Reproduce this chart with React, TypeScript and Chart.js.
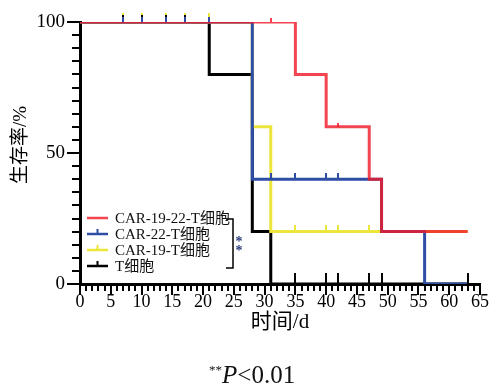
import React, { useEffect, useRef } from 'react';
import { Chart, registerables } from 'chart.js';

Chart.register(...registerables);

const FONT = "'Liberation Serif', 'Noto Sans CJK SC', serif";

// Series names and colours
const SERIES_NAMES = ['CAR-19-22-T细胞', 'CAR-22-T细胞', 'CAR-19-T细胞', 'T细胞'];
const SERIES_COLORS = ['rgba(240,28,42,0.82)', '#2e4ea6', '#ece53a', '#000000'];

// Kaplan–Meier step curves: event times (days) and survival (%)
const RED_TIMES = [0, 35, 40, 47, 49, 63];
const RED_SURV = [100, 80, 60, 40, 20, 20];
const BLUE_TIMES = [0, 28, 49, 56, 63];
const BLUE_SURV = [100, 40, 20, 0, 0];
const YELLOW_TIMES = [0, 28, 31, 63];
const YELLOW_SURV = [100, 60, 20, 20];
const BLACK_TIMES = [0, 21, 28, 31, 63];
const BLACK_SURV = [100, 80, 20, 0, 0];

// Censor marks: times and survival levels
const RED_CENSOR_T = [31, 42];
const RED_CENSOR_S = [100, 60];
const BLUE_CENSOR_T = [7, 10, 14, 17, 21, 31, 35, 40, 42];
const BLUE_CENSOR_S = [100, 100, 100, 100, 100, 40, 40, 40, 40];
const YELLOW_CENSOR_T = [7, 10, 14, 17, 21, 35, 40, 42, 47, 63];
const YELLOW_CENSOR_S = [100, 100, 100, 100, 100, 20, 20, 20, 20, 0];
const BLACK_CENSOR_T = [7, 10, 14, 17, 35, 40, 42, 47, 49, 63];
const BLACK_CENSOR_S = [100, 100, 100, 100, 0, 0, 0, 0, 0, 0];

// Axis ranges / tick labels
const X_MIN = 0;
const X_MAX = 65;
const X_LABEL_STEP = 5;
const X_MINOR_STEP = 1;
const Y_MIN = 0;
const Y_MAX = 100;
const Y_LABEL_STEP = 50;
const Y_MINOR_STEP = 5;

const X_TITLE = '时间/d';
const Y_TITLE = '生存率/%';

const zip = (t: number[], s: number[]) => t.map((x, i) => ({ x, y: s[i] }));

const tickCache: Record<string, HTMLCanvasElement> = {};
function tickImage(color: string, len: number): HTMLCanvasElement {
  const key = color + '|' + len;
  if (tickCache[key]) return tickCache[key];
  const c = document.createElement('canvas');
  c.width = 2;
  c.height = len * 2;
  const g = c.getContext('2d')!;
  g.fillStyle = color;
  g.fillRect(0, 0, 2, len);
  tickCache[key] = c;
  return c;
}

const axisTicksPlugin = {
  id: 'axisTicks',
  afterDraw(chart: any) {
    const { ctx, scales } = chart;
    const xs = scales.x;
    const ys = scales.y;
    const bottom = chart.chartArea.bottom;
    const left = chart.chartArea.left;
    ctx.save();
    ctx.strokeStyle = '#000';
    ctx.lineWidth = 2;
    for (let v = X_MIN; v <= X_MAX; v += X_MINOR_STEP) {
      const px = Math.round(xs.getPixelForValue(v));
      const len = v % X_LABEL_STEP === 0 ? 11 : 7;
      ctx.beginPath();
      ctx.moveTo(px, bottom);
      ctx.lineTo(px, bottom + len);
      ctx.stroke();
    }
    for (let v = Y_MIN; v <= Y_MAX; v += Y_MINOR_STEP) {
      const py = Math.round(ys.getPixelForValue(v));
      const len = v % Y_LABEL_STEP === 0 ? 13 : 8;
      ctx.beginPath();
      ctx.moveTo(left, py);
      ctx.lineTo(left - len, py);
      ctx.stroke();
    }
    // y-axis title
    ctx.translate(21, 145);
    ctx.rotate(-Math.PI / 2);
    ctx.fillStyle = '#000';
    ctx.font = `19px ${FONT}`;
    ctx.textAlign = 'center';
    ctx.textBaseline = 'middle';
    ctx.fillText(Y_TITLE, 0, 0);
    ctx.restore();
  },
};

const legendPlugin = {
  id: 'kmLegend',
  afterDraw(chart: any) {
    const { ctx } = chart;
    const top = 218;
    const rowH = 16;
    ctx.save();
    SERIES_NAMES.forEach((name, i) => {
      const y = top + i * rowH;
      ctx.strokeStyle = SERIES_COLORS[i];
      ctx.lineWidth = 2.5;
      ctx.beginPath();
      ctx.moveTo(87, y);
      ctx.lineTo(108, y);
      ctx.stroke();
      if (i > 0) {
        ctx.lineWidth = 2;
        ctx.beginPath();
        ctx.moveTo(97.5, y);
        ctx.lineTo(97.5, y - 5);
        ctx.stroke();
      }
      ctx.fillStyle = '#111';
      ctx.font = `15px ${FONT}`;
      ctx.textAlign = 'left';
      ctx.textBaseline = 'middle';
      ctx.fillText(name, 115, y + 1);
    });
    // significance bracket
    ctx.strokeStyle = '#000';
    ctx.lineWidth = 1.5;
    ctx.beginPath();
    ctx.moveTo(226, 219);
    ctx.lineTo(233, 219);
    ctx.lineTo(233, 268);
    ctx.lineTo(226, 268);
    ctx.stroke();
    ctx.fillStyle = '#2a3a7a';
    ctx.font = `bold 14px ${FONT}`;
    ctx.textAlign = 'center';
    ctx.textBaseline = 'middle';
    ctx.fillText('*', 239, 242);
    ctx.fillText('*', 239, 251);
    ctx.restore();
  },
};

export default function App() {
  const ref = useRef<HTMLCanvasElement | null>(null);

  useEffect(() => {
    if (!ref.current) return;
    const lineDs = (i: number, t: number[], s: number[], order: number) => ({
      type: 'line' as const,
      label: SERIES_NAMES[i],
      data: zip(t, s),
      borderColor: SERIES_COLORS[i],
      backgroundColor: SERIES_COLORS[i],
      borderWidth: 3,
      stepped: true,
      pointRadius: 0,
      fill: false,
      borderCapStyle: 'butt',
      borderJoinStyle: 'miter',
      order,
    });
    const censorDs = (
      i: number,
      t: number[],
      s: number[],
      lenFn: (y: number) => number,
      order: number
    ) => ({
      type: 'scatter' as const,
      label: SERIES_NAMES[i] + ' censored',
      data: zip(t, s),
      showLine: false,
      clip: false,
      pointStyle: (c: any) => tickImage(SERIES_COLORS[i], lenFn(c.raw ? c.raw.y : 0)),
      pointRadius: 5,
      order,
    });

    const chart = new Chart(ref.current, {
      type: 'line',
      data: {
        datasets: [
          lineDs(3, BLACK_TIMES, BLACK_SURV, 20),
          lineDs(2, YELLOW_TIMES, YELLOW_SURV, 19),
          lineDs(1, BLUE_TIMES, BLUE_SURV, 18),
          lineDs(0, RED_TIMES, RED_SURV, 17),
          censorDs(2, YELLOW_CENSOR_T, YELLOW_CENSOR_S, (y) => (y === 100 ? 9 : 7), 10),
          censorDs(3, BLACK_CENSOR_T, BLACK_CENSOR_S, (y) => (y === 100 ? 7 : 11), 9),
          censorDs(1, BLUE_CENSOR_T, BLUE_CENSOR_S, (y) => (y === 100 ? 5 : 6), 8),
          censorDs(0, RED_CENSOR_T, RED_CENSOR_S, () => 4, 7),
        ] as any,
      },
      options: {
        responsive: false,
        animation: false,
        layout: { padding: { left: 0, right: 10, top: 22, bottom: 44 } },
        plugins: {
          legend: { display: false },
          tooltip: { enabled: false },
        },
        scales: {
          x: {
            type: 'linear',
            min: X_MIN,
            max: X_MAX,
            afterFit: (s: any) => {
              s.height = 61;
              s.paddingRight = 0;
              s.paddingLeft = 0;
            },
            border: { display: true, color: '#000', width: 3 },
            grid: { display: false, drawTicks: false },
            ticks: {
              stepSize: X_LABEL_STEP,
              autoSkip: false,
              maxRotation: 0,
              padding: 7,
              color: '#000',
              font: { family: FONT, size: 18 },
            },
            title: {
              display: true,
              text: X_TITLE,
              color: '#000',
              font: { family: FONT, size: 21 },
              padding: { top: 0, bottom: 10 },
            },
          },
          y: {
            type: 'linear',
            min: Y_MIN,
            max: Y_MAX,
            afterFit: (s: any) => {
              s.width = 80;
              s.paddingTop = 0;
              s.paddingBottom = 0;
            },
            border: { display: true, color: '#000', width: 3 },
            grid: { display: false, drawTicks: false },
            ticks: {
              stepSize: Y_LABEL_STEP,
              padding: 15,
              color: '#000',
              font: { family: FONT, size: 19 },
            },
            title: { display: false },
          },
        },
      } as any,
      plugins: [axisTicksPlugin, legendPlugin],
    });
    return () => chart.destroy();
  }, []);

  return (
    <div style={{ position: 'fixed', left: 0, top: 0, width: 490, height: 389, background: '#fff' }}>
      <canvas ref={ref} width={490} height={389} style={{ display: 'block' }} />
      <div
        style={{
          position: 'absolute',
          left: 209,
          top: 357,
          fontFamily: FONT,
          fontSize: 25,
          lineHeight: '25px',
          color: '#111',
          whiteSpace: 'nowrap',
        }}
      >
        <span style={{ fontSize: 13, verticalAlign: 9 }}>**</span>
        <i>P</i>&lt;0.01
      </div>
    </div>
  );
}
